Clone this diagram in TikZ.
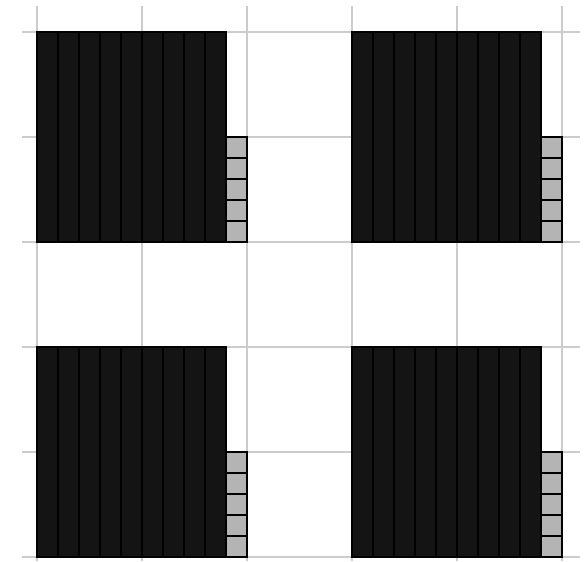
\documentclass[tikz,border=0pt]{standalone}
\definecolor{gridc}{HTML}{CCCCCC}
\definecolor{barc}{HTML}{141414}
\definecolor{cellc}{HTML}{B4B4B4}
\tikzset{
  gridline/.style={draw=gridc, line width=1.3pt},
  barbox/.style={fill=barc, draw=black, line width=0.8pt},
  cellbox/.style={fill=cellc, draw=black, line width=1pt}
}
\begin{document}
\begin{tikzpicture}[x=0.5cm,y=0.5cm]
\useasboundingbox (-1.762,-0.238) rectangle (26.048,26.524);
% grid
\foreach \i in {0,5,...,25}{
  \draw[gridline] (\i,-0.19) -- (\i,26.24);
  \draw[gridline] (-0.714,\i) -- (25.86,\i);
}
% blocks
\foreach \ox/\oy in {0/15,15/15,0/0,15/0}{
  \foreach \k in {0,...,8}{
    \draw[barbox] (\ox+\k,\oy) rectangle (\ox+\k+1,\oy+10);
  }
  \foreach \k in {0,...,4}{
    \draw[cellbox] (\ox+9,\oy+\k) rectangle (\ox+10,\oy+\k+1);
  }
}
\end{tikzpicture}
\end{document}
